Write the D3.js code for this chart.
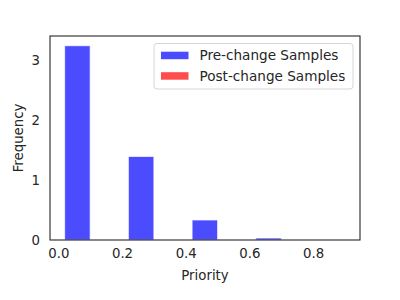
<!DOCTYPE html>
<html><head><meta charset="utf-8">
<script src="https://cdn.jsdelivr.net/npm/d3@7"></script>
<style>body{margin:0;background:#fff}svg{display:block}text{font-family:"DejaVu Sans",sans-serif;fill:#262626}</style>
</head><body>
<script>
const binEdges = [0.0, 0.2, 0.4, 0.6, 0.8];
const binWidth = 0.2;
const preDensity = [3.233, 1.39, 0.333, 0.033, 0];
const postDensity = [0, 0, 0, 0, 0];
const xTicks = [0.0, 0.2, 0.4, 0.6, 0.8];
const yTicks = [0, 1, 2, 3];
const seriesNames = ["Pre-change Samples", "Post-change Samples"];
const seriesColors = ["rgba(0,0,255,0.7)", "rgba(255,0,0,0.7)"];

const W = 400, H = 300;
const m = {left: 50, right: 40, top: 36, bottom: 60};
const svg = d3.select("body").append("svg").attr("width", W).attr("height", H);

const x = d3.scaleLinear().domain([-0.026, 0.947]).range([m.left, W - m.right]);
const y = d3.scaleLinear().domain([0, 3.395]).range([H - m.bottom, m.top]);

const g = svg.append("g");
const dr = 0.8, n = 2;
const bw = dr * binWidth / n;
const off0 = (1 - dr) / 2 * binWidth;
[preDensity, postDensity].forEach((vals, si) => {
  g.selectAll(null).data(vals.map((v, i) => ({v, e: binEdges[i]})).filter(d => d.v > 0)).enter()
    .append("rect")
    .attr("x", d => x(d.e + off0 + si * bw))
    .attr("width", d => x(d.e + off0 + (si + 1) * bw) - x(d.e + off0 + si * bw))
    .attr("y", d => y(d.v))
    .attr("height", d => y(0) - y(d.v))
    .attr("fill", seriesColors[si])
    .attr("stroke", "rgba(255,255,255,0.7)")
    .attr("stroke-width", 1);
});

// axes (no tick marks, seaborn white style)
const xAxis = d3.axisBottom(x).tickValues(xTicks).tickFormat(d3.format(".1f")).tickSize(0).tickPadding(9);
const yAxis = d3.axisLeft(y).tickValues(yTicks).tickFormat(d3.format("d")).tickSize(0).tickPadding(10);
const gx = svg.append("g").attr("transform", `translate(0,${H - m.bottom})`).call(xAxis);
const gy = svg.append("g").attr("transform", `translate(${m.left},0)`).call(yAxis);
[gx, gy].forEach(a => { a.select(".domain").remove(); a.selectAll("text").attr("font-size", 13.3).attr("font-family", "DejaVu Sans").attr("fill", "#262626"); });

svg.append("rect").attr("x", m.left).attr("y", m.top)
  .attr("width", W - m.left - m.right).attr("height", H - m.top - m.bottom)
  .attr("fill", "none").attr("stroke", "#262626").attr("stroke-width", 1.1);

svg.append("text").attr("x", (m.left + W - m.right) / 2).attr("y", 279.5)
  .attr("text-anchor", "middle").attr("font-size", 13.3).text("Priority");
svg.append("text").attr("transform", `translate(22.5,${(m.top + H - m.bottom) / 2}) rotate(-90)`)
  .attr("text-anchor", "middle").attr("font-size", 13.3).text("Frequency");

// legend
const lg = svg.append("g");
lg.append("rect").attr("x", 154).attr("y", 43.5).attr("width", 199).attr("height", 45.5)
  .attr("rx", 3).attr("fill", "rgba(255,255,255,0.8)").attr("stroke", "#d6d6d6").attr("stroke-width", 1);
seriesNames.forEach((s, i) => {
  const yy = 51.7 + i * 20.5;
  lg.append("rect").attr("x", 161).attr("y", yy).attr("width", 27.5).attr("height", 7.5).attr("fill", seriesColors[i]);
  lg.append("text").attr("x", 199.5).attr("y", yy + 8.3).attr("font-size", 13.6).text(s);
});
</script>
</body></html>
